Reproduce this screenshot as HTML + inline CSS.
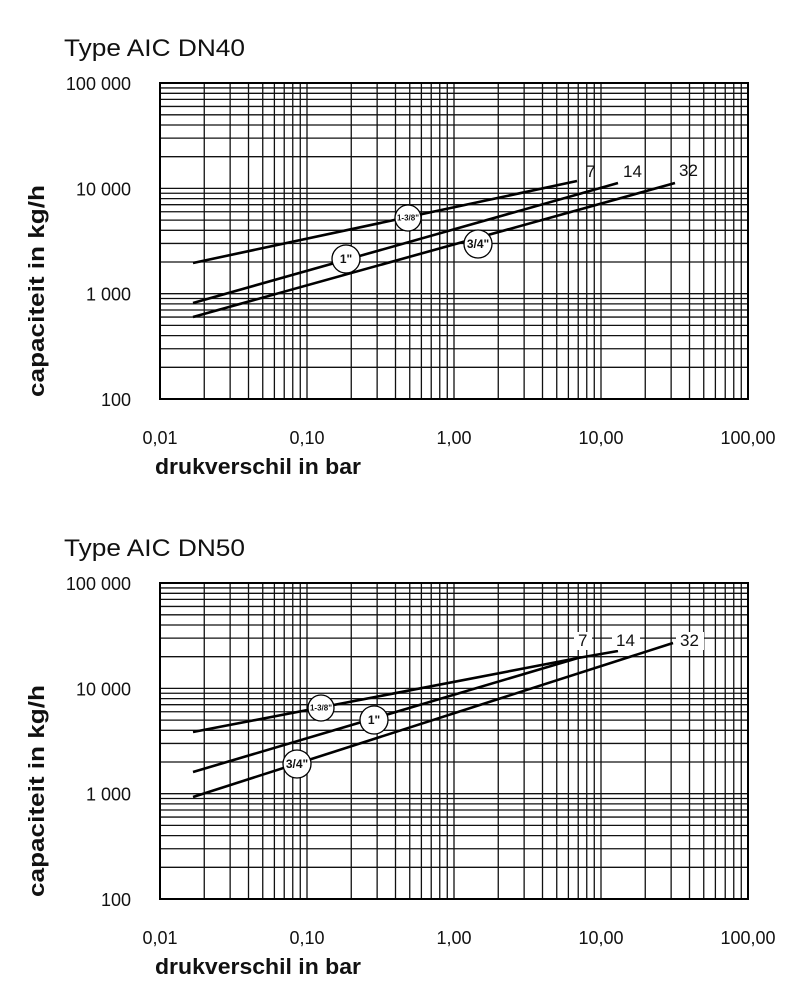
<!DOCTYPE html>
<html><head><meta charset="utf-8"><style>
body{margin:0;background:#fff}
svg{display:block}
text{font-family:"Liberation Sans",Arial,sans-serif;fill:#111}
</style></head><body>
<svg id="s" width="800" height="983" xmlns="http://www.w3.org/2000/svg"></svg>
<script>
const s=document.getElementById('s');
let h='';
const L=160,R=748,XD=147;
function chart(top,title,lines,circles,labels,labelBg){
  const bot=top+316, YD=105.3;
  h+=`<text x="64" y="${top-27}" font-size="24" textLength="181" lengthAdjust="spacingAndGlyphs">${title}</text>`;
  for(let d=0;d<4;d++)for(let k=1;k<10;k++){const x=L+XD*(d+Math.log10(k));if(k==1&&d==0)continue;h+=`<line x1="${x}" y1="${top}" x2="${x}" y2="${bot}" stroke="#111" stroke-width="1.3"/>`;}
  for(let d=0;d<3;d++)for(let k=1;k<10;k++){const y=bot-YD*(d+Math.log10(k));if(k==1&&d==0)continue;h+=`<line x1="${L}" y1="${y}" x2="${R}" y2="${y}" stroke="#111" stroke-width="1.3"/>`;}
  h+=`<rect x="${L}" y="${top}" width="${R-L}" height="${bot-top}" fill="none" stroke="#000" stroke-width="2"/>`;
  const yl=['100','1 000','10 000','100 000'];
  yl.forEach((t,i)=>h+=`<text x="131" y="${bot-YD*i+7}" font-size="18" text-anchor="end">${t}</text>`);
  const xl=['0,01','0,10','1,00','10,00','100,00'];
  xl.forEach((t,i)=>h+=`<text x="${L+XD*i}" y="${bot+45}" font-size="18" text-anchor="middle">${t}</text>`);
  h+=`<text x="155" y="${bot+75}" font-size="22" font-weight="bold" textLength="206" lengthAdjust="spacingAndGlyphs">drukverschil in bar</text>`;
  h+=`<text transform="translate(44,${(top+bot)/2+50}) rotate(-90)" font-size="22" font-weight="bold" text-anchor="middle" textLength="212" lengthAdjust="spacingAndGlyphs">capaciteit in kg/h</text>`;
  lines.forEach(p=>h+=`<polyline points="${p}" fill="none" stroke="#000" stroke-width="2.6"/>`);
  labels.forEach(([x,y,t])=>{ if(labelBg)h+=`<rect x="${x-4}" y="${y-14}" width="${t.length*10+8}" height="18" fill="#fff"/>`;h+=`<text x="${x}" y="${y}" font-size="17">${t}</text>`;});
  circles.forEach(([x,y,r,t,fs])=>h+=`<circle cx="${x}" cy="${y}" r="${r}" fill="#fff" stroke="#000" stroke-width="1.3"/><text x="${x}" y="${y+fs/3}" font-size="${fs}" font-weight="bold" text-anchor="middle">${t}</text>`);
}
chart(83,'Type AIC DN40',
 ['193,263 577,181','193,303 618,183','193,317 675,183'],
 [[408,218,13,'1-3/8"',8],[346,259,14,'1"',12],[478,244,14,'3/4"',12]],
 [[586,177,'7'],[623,177,'14'],[679,176,'32']],false);
chart(583,'Type AIC DN50',
 ['193,732 578,658','193,772 578,658 618,651','193,797 673,643'],
 [[321,708,13,'1-3/8"',8],[374,720,14,'1"',12],[297,764,14,'3/4"',12]],
 [[578,646,'7'],[616,646,'14'],[680,646,'32']],true);
s.innerHTML=h;
</script>
</body></html>
